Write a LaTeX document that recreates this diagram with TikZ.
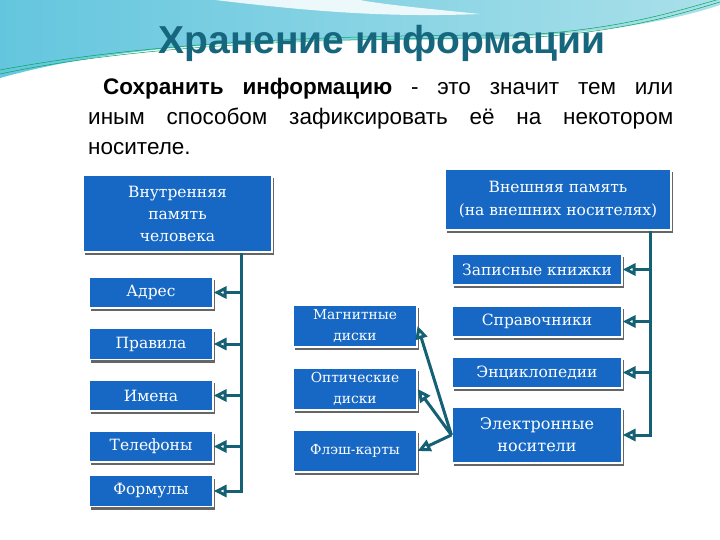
\documentclass[tikz,border=0pt]{standalone}
\usepackage{fontspec}
\setmainfont{DejaVu Serif}
\setsansfont{Liberation Sans}
\usetikzlibrary{arrows.meta,shadows}
\definecolor{boxblue}{RGB}{22,104,196}
\definecolor{linkteal}{RGB}{20,96,116}
\definecolor{titleteal}{RGB}{22,102,126}
\definecolor{bgcyan}{RGB}{100,198,222}
\definecolor{bggray}{RGB}{140,190,214}
\definecolor{bglight}{RGB}{170,224,234}
\tikzset{
	memblock/.style={draw=white,line width=1.2pt,fill=boxblue,text=white,align=center,inner sep=1pt,
		font=\fontsize{15.5}{22}\selectfont,
		drop shadow={shadow xshift=1.5pt,shadow yshift=-3pt,fill=black!75,opacity=0.8}},
	link/.style={linkteal,line width=3pt},
	linkarrow/.style={link,-{Triangle[open,length=13pt,width=12pt]}},
	swirl/.style={teal!70!green,line width=0.5pt},
}
\begin{document}
\begin{tikzpicture}[x=1pt,y=-1pt]
	\useasboundingbox (0,0) rectangle (720,540);
	\fill[white] (0,0) rectangle (720,540);
	\shade[left color=bgcyan,middle color=bggray,right color=bglight] (0,0) -- (720,0) -- (720,5) .. controls (640,32) and (520,40) .. (380,40) .. controls (220,40) and (100,50) .. (0,78) -- cycle;
	\fill[white,opacity=0.85] (215,0) .. controls (300,10) and (380,18) .. (480,14) .. controls (420,8) and (380,4) .. (360,0) -- cycle;
	\draw[swirl] (0,74) .. controls (150,42) and (350,38) .. (520,38) .. controls (620,33) and (680,14) .. (720,2);
	\draw[swirl] (0,70) .. controls (160,40) and (350,35) .. (520,35) .. controls (620,30) and (680,10) .. (720,-1);

	\node[titleteal,font=\sffamily\bfseries\fontsize{39}{44}\selectfont] (head) at (382,43) {Хранение информации};
	\node[anchor=north west,inner sep=0pt,text width=585pt,align=justify,font=\sffamily\fontsize{22.5}{30}\selectfont] (def) at (88,78)
		{\hspace*{15pt}\textbf{Сохранить информацию} - это значит тем или\linebreak иным способом зафиксировать её на некотором\linebreak носителе.};

	\node[memblock,minimum width=189pt,minimum height=77pt] (inner) at (177.5,213.5) {Внутренняя\\память\\человека};
	\foreach \name/\txt/\y in {adres/Адрес/292.5,rules/Правила/344,names/Имена/395.5,phones/Телефоны/446.5,formulas/Формулы/491}
		\node[memblock,minimum width=124pt,minimum height=31pt] (\name) at (151,\y) {\txt};

	\foreach \name/\txt/\y in {magnetic/Магнитные\\диски/326,optical/Оптические\\диски/389,flash/Флэш-карты/451}
		\node[memblock,minimum width=124pt,minimum height=42pt,font=\fontsize{13.8}{21.5}\selectfont] (\name) at (355,\y) {\txt};

	\node[memblock,minimum width=226pt,minimum height=61pt,font=\fontsize{15.5}{23}\selectfont] (ext) at (558,199.5) {Внешняя память\\(на внешних носителях)};
	\foreach \name/\txt/\y in {notebooks/Записные книжки/269.5,handbooks/Справочники/321.5,encyclop/Энциклопедии/372.5}
		\node[memblock,minimum width=170pt,minimum height=31pt] (\name) at (537,\y) {\txt};
	\node[memblock,minimum width=170pt,minimum height=56pt,font=\fontsize{16}{22}\selectfont] (electr) at (537,435) {Электронные\\носители};

	\coordinate (trunkL) at (241,0);
	\draw[linkarrow] (inner.south -| trunkL) |- (formulas.east);
	\foreach \name in {adres,rules,names,phones}
		\draw[linkarrow] (trunkL |- \name.east) -- (\name.east);

	\coordinate (trunkR) at (650,0);
	\draw[linkarrow] (ext.south -| trunkR) |- (electr.east);
	\foreach \name in {notebooks,handbooks,encyclop}
		\draw[linkarrow] (trunkR |- \name.east) -- (\name.east);

	\foreach \name in {magnetic,optical,flash}
		\draw[linkarrow] (electr.west) -- (\name.east);
\end{tikzpicture}
\end{document}
